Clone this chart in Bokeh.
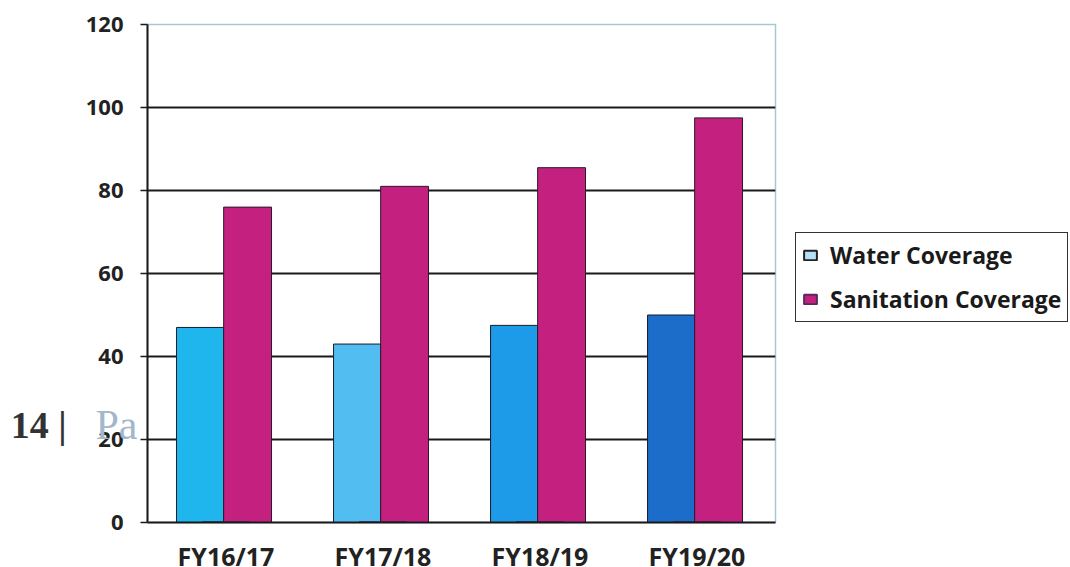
from bokeh.plotting import figure
from bokeh.models import ColumnDataSource, FactorRange, Range1d, FixedTicker, Legend, LegendItem, LinearAxis
from bokeh.transform import dodge
from bokeh.embed import file_html
from bokeh.resources import INLINE

categories = ["FY16/17", "FY17/18", "FY18/19", "FY19/20"]
water = [47, 43, 47.5, 50]
sanitation = [76, 81, 85.5, 97.5]
water_colors = ["#1fb6ee", "#52bdf0", "#1d9be9", "#1c6cc9"]
sanitation_color = "#c4207f"
y_ticks = [0, 20, 40, 60, 80, 100, 120]
grid_ticks = [20, 40, 60, 80, 100]
page_mark = ["14 |", "Pa"]

src = ColumnDataSource(dict(cat=categories, water=water, san=sanitation, wc=water_colors))

p = figure(x_range=FactorRange(*categories, range_padding=0), y_range=Range1d(0, 120),
           frame_width=628, frame_height=498, output_backend="svg", toolbar_location=None,
           min_border_left=147, min_border_right=0, min_border_top=24, min_border_bottom=45)
p.background_fill_color = "white"
p.border_fill_color = "white"
p.outline_line_color = "#a9c6d6"
p.outline_line_width = 1.5
p.extra_y_ranges = {"hidden": Range1d(1000, 2000)}

p.vbar(x=dodge("cat", -0.165, range=p.x_range), top="water", width=0.3, source=src,
       fill_color="wc", line_color="#1a1a2a", line_width=1)
p.vbar(x=dodge("cat", 0.1375, range=p.x_range), top="san", width=0.305, source=src,
       fill_color=sanitation_color, line_color="#2a1a2a", line_width=1)

# legend proxies (drawn on a hidden range, only their swatches show)
r_w = p.vbar(x="cat", top="water", width=0.3, source=src, y_range_name="hidden",
             fill_color="#b5e1f8", line_color="#222222", line_width=2)
r_s = p.vbar(x="cat", top="san", width=0.3, source=src, y_range_name="hidden",
             fill_color="#c4207f", line_color="#5a2a5a", line_width=2)

legend = Legend(items=[LegendItem(label="Water Coverage", renderers=[r_w]),
                       LegendItem(label="Sanitation Coverage", renderers=[r_s])],
                location=(20, 200), orientation="vertical")
legend.label_text_font = "Open Sans"
legend.label_text_font_style = "bold"
legend.label_text_font_size = "23px"
legend.label_text_color = "#1a1a1a"
legend.glyph_width = 16
legend.glyph_height = 12
legend.label_standoff = 12
legend.label_height = 28
legend.spacing = 12
legend.padding = 6
legend.margin = 0
legend.border_line_color = "#333333"
legend.border_line_alpha = 1
legend.border_line_width = 1.5
legend.background_fill_alpha = 1
p.add_layout(legend, "right")

p.yaxis.ticker = FixedTicker(ticks=y_ticks)
p.ygrid.ticker = FixedTicker(ticks=grid_ticks)
p.ygrid.grid_line_color = "#1a1a1a"
p.ygrid.grid_line_width = 2
p.xgrid.grid_line_color = None

for ax in (p.xaxis, p.yaxis):
    ax.axis_line_color = "#1a1a1a"
    ax.axis_line_width = 2
    ax.major_tick_line_color = "#1a1a1a"
    ax.major_tick_line_width = 1.5
    ax.minor_tick_line_color = None
    ax.major_label_text_font = "Open Sans"
    ax.major_label_text_font_style = "bold"
    ax.major_label_text_color = "#222222"

p.yaxis.major_label_text_font_size = "22px"
p.xaxis.major_label_text_font_size = "25px"
p.yaxis.major_tick_out = 7
p.yaxis.major_tick_in = 0
p.yaxis.major_label_standoff = 17
p.xaxis.major_tick_line_color = None
p.xaxis.major_label_standoff = 10

# page-number text from the scanned page, as extra label-only axes
ax_pa = LinearAxis(ticker=FixedTicker(ticks=[23.5]), major_label_overrides={23.5: page_mark[1]},
                   axis_line_color=None, major_tick_line_color=None, minor_tick_line_color=None,
                   major_label_standoff=-61, major_label_text_font="Liberation Serif",
                   major_label_text_font_size="42px", major_label_text_color="#a3b6cc")
ax_14 = LinearAxis(ticker=FixedTicker(ticks=[23.5]), major_label_overrides={23.5: page_mark[0]},
                   axis_line_color=None, major_tick_line_color=None, minor_tick_line_color=None,
                   major_label_standoff=10, major_label_text_font="Liberation Serif",
                   major_label_text_font_style="bold",
                   major_label_text_font_size="38px", major_label_text_color="#333333")
p.add_layout(ax_pa, "left")
p.add_layout(ax_14, "left")

open("out.html", "w").write(file_html(p, INLINE))
